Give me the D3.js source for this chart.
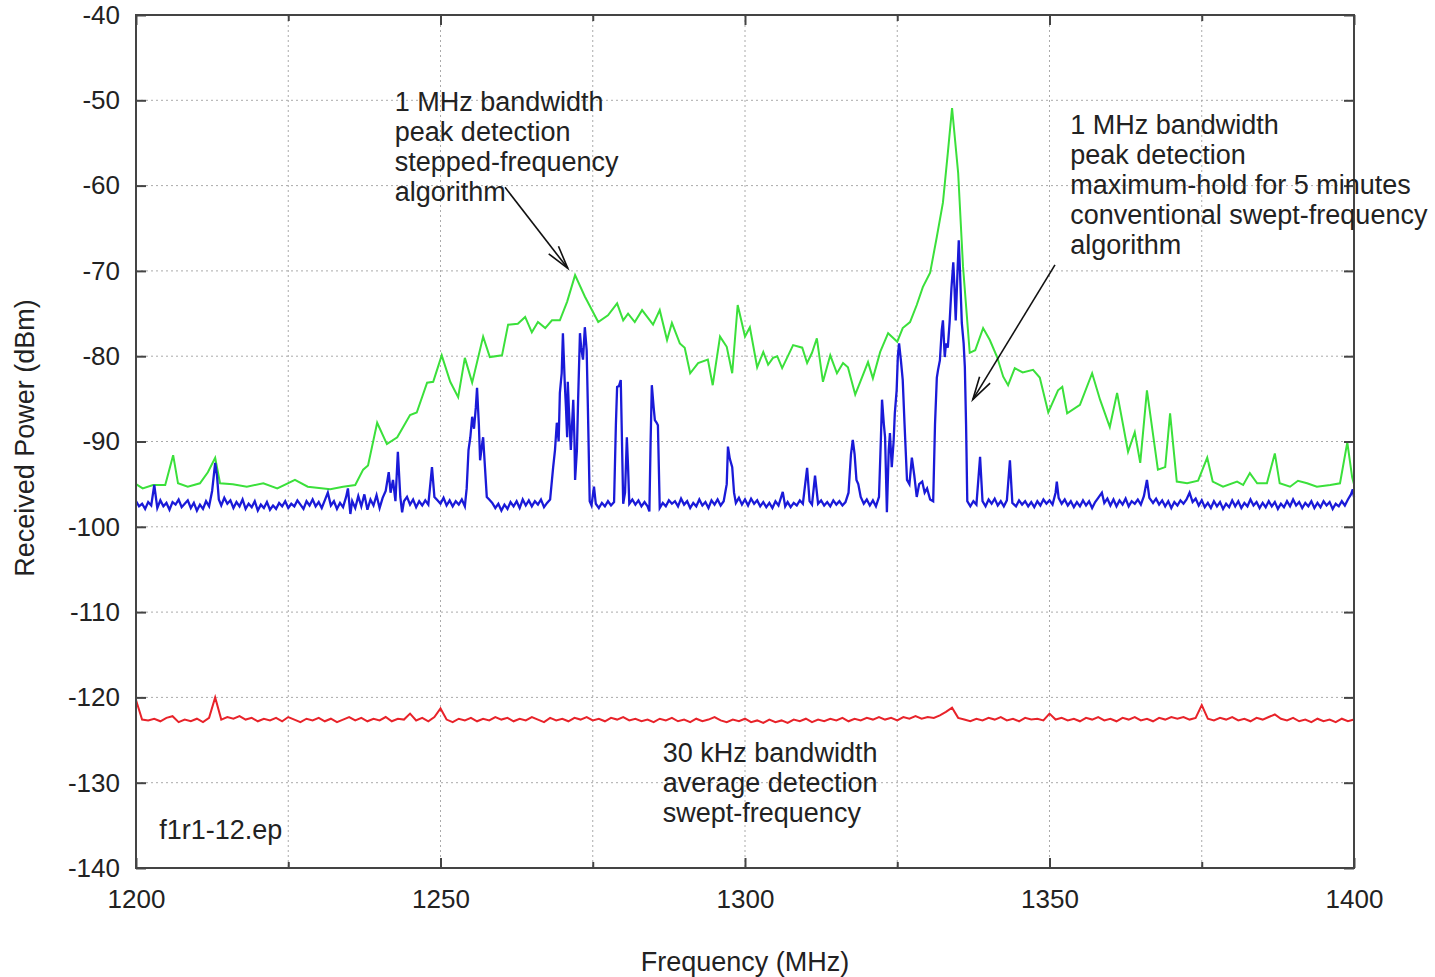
<!DOCTYPE html>
<html>
<head>
<meta charset="utf-8">
<script src="https://cdn.jsdelivr.net/npm/d3@7"></script>
<style>
  body { margin: 0; background: #fff; }
  text { font-family: "Liberation Sans", Arial, sans-serif; fill: #222; }
</style>
</head>
<body>
<div id="chart"></div>
<script>
// x tick labels and y ticks
const xTicks = [1200, 1250, 1300, 1350, 1400]
const xGrid = [1225, 1250, 1275, 1300, 1325, 1350, 1375]
const yTicks = [-140, -130, -120, -110, -100, -90, -80, -70, -60, -50, -40]

// 1 MHz peak, stepped-frequency (green) [MHz, dBm]
const green = [[1200,-95.0],[1201.1,-95.5],[1202.8,-95.1],[1204.8,-95.1],[1206.1,-91.6],[1206.9,-94.9],[1208.5,-95.3],[1210.5,-94.9],[1211.8,-93.6],[1213.0,-91.9],[1213.8,-94.9],[1215.9,-95.0],[1218.2,-95.3],[1220.9,-94.9],[1223.2,-95.5],[1226.1,-94.5],[1228.2,-95.3],[1231.9,-95.6],[1234.0,-95.3],[1236.0,-95.1],[1237.3,-93.3],[1238.1,-92.8],[1239.6,-87.8],[1241.2,-90.3],[1242.9,-89.5],[1245.0,-86.9],[1246.1,-86.6],[1247.8,-83.1],[1248.8,-83.0],[1250.2,-79.9],[1251.6,-83.0],[1252.9,-84.8],[1254.0,-80.2],[1255.2,-83.1],[1257.0,-77.7],[1258.1,-80.1],[1260.1,-79.9],[1261.1,-76.3],[1262.7,-76.2],[1263.9,-75.4],[1265.0,-77.2],[1266.0,-76.0],[1267.2,-76.7],[1268.3,-75.8],[1269.6,-75.8],[1270.8,-73.6],[1272.1,-70.5],[1273.7,-73.0],[1275.9,-76.0],[1277.5,-75.2],[1279.0,-73.8],[1280.0,-75.8],[1280.8,-75.0],[1281.9,-76.0],[1283.1,-74.6],[1284.9,-76.3],[1286.0,-74.6],[1287.2,-78.1],[1288.0,-76.1],[1289.3,-78.5],[1290.1,-79.0],[1291.0,-82.0],[1292.3,-80.8],[1293.9,-80.4],[1294.7,-83.4],[1295.9,-77.7],[1297.0,-78.9],[1297.9,-82.0],[1298.8,-74.0],[1300.0,-77.7],[1300.8,-76.6],[1302.0,-81.3],[1303.0,-79.5],[1303.8,-81.0],[1304.6,-80.2],[1305.3,-80.0],[1306.1,-81.4],[1307.9,-78.7],[1309.4,-79.0],[1310.2,-80.8],[1311.0,-79.6],[1311.8,-77.9],[1312.8,-83.0],[1314.0,-79.9],[1315.1,-82.0],[1316.1,-80.8],[1316.9,-81.3],[1318.1,-84.5],[1320.2,-80.7],[1321.0,-82.6],[1322.2,-79.5],[1323.5,-77.3],[1325.0,-78.3],[1325.9,-76.7],[1327.1,-76.0],[1328.2,-74.0],[1329.2,-71.9],[1330.4,-70.2],[1331.5,-66.0],[1332.5,-62.0],[1333.3,-56.2],[1334.0,-50.9],[1335.0,-58.5],[1335.8,-69.5],[1336.9,-79.6],[1337.8,-79.3],[1339.1,-76.7],[1340.2,-78.1],[1341.4,-80.1],[1342.4,-82.4],[1343.2,-83.4],[1344.3,-81.4],[1345.6,-81.9],[1347.3,-81.6],[1348.4,-82.5],[1349.8,-86.6],[1351.4,-84.0],[1352.1,-83.6],[1352.9,-86.7],[1355.0,-85.7],[1357.0,-82.0],[1358.3,-85.1],[1359.9,-88.3],[1361.1,-84.3],[1362.9,-91.2],[1364.0,-88.9],[1364.9,-92.5],[1366.0,-84.0],[1367.8,-93.3],[1369.0,-93.0],[1369.8,-86.7],[1370.9,-94.7],[1372.6,-94.9],[1374.4,-94.6],[1375.9,-91.9],[1376.8,-94.7],[1378.5,-95.3],[1380.8,-94.7],[1381.8,-95.1],[1382.9,-93.7],[1384.1,-94.9],[1385.7,-94.9],[1387.0,-91.4],[1387.8,-94.9],[1389.5,-95.3],[1390.8,-94.6],[1392.3,-94.9],[1393.9,-95.3],[1396.1,-95.1],[1397.7,-94.9],[1398.9,-90.1],[1399.7,-94.2],[1400,-95.0]]

// 1 MHz peak, max-hold swept-frequency (blue) [MHz, dBm]
const blue = [[1200,-97.0],[1200.5,-97.6],[1201,-97.3],[1201.5,-97.9],[1202,-97.1],[1202.5,-97.5],[1203,-95.1],[1203.5,-97.8],[1204,-96.9],[1204.5,-97.6],[1205,-97.2],[1205.5,-98.0],[1206,-97.1],[1206.5,-97.4],[1207,-96.8],[1207.5,-97.7],[1208,-97.3],[1208.5,-96.9],[1209,-97.8],[1209.5,-97.2],[1210,-98.1],[1210.5,-97.4],[1211,-97.9],[1211.5,-97.0],[1212,-97.6],[1212.5,-95.8],[1213,-92.5],[1213.3,-94.0],[1213.6,-96.8],[1214,-97.5],[1214.5,-96.6],[1215,-97.3],[1215.5,-96.9],[1216,-97.8],[1216.5,-97.1],[1217,-97.6],[1217.5,-96.8],[1218,-97.9],[1218.5,-97.3],[1219,-97.7],[1219.5,-97.0],[1220,-98.1],[1220.5,-97.4],[1221,-97.8],[1221.5,-97.1],[1222,-98.0],[1222.5,-97.5],[1223,-97.9],[1223.5,-97.2],[1224,-97.6],[1224.5,-97.0],[1225,-97.8],[1225.5,-97.3],[1226,-97.6],[1226.5,-96.9],[1227,-97.4],[1227.5,-97.9],[1228,-97.0],[1228.5,-97.5],[1229,-96.8],[1229.5,-97.6],[1230,-97.1],[1230.5,-97.8],[1231,-96.9],[1231.5,-96.0],[1232,-97.5],[1232.5,-97.0],[1233,-97.9],[1233.5,-97.2],[1234,-97.7],[1234.5,-96.5],[1234.8,-95.5],[1235.2,-98.5],[1235.5,-97.0],[1236,-97.8],[1236.5,-96.4],[1237,-97.6],[1237.5,-96.2],[1238,-98.0],[1238.5,-96.8],[1239,-97.5],[1239.5,-96.3],[1240,-97.8],[1240.5,-96.6],[1241,-95.8],[1241.5,-93.6],[1241.8,-96.0],[1242.2,-94.5],[1242.6,-97.0],[1243,-91.2],[1243.4,-96.5],[1243.7,-98.3],[1244,-97.0],[1244.5,-96.5],[1245,-97.4],[1245.5,-96.8],[1246,-97.7],[1246.5,-97.0],[1247,-97.5],[1247.5,-96.9],[1248,-97.4],[1248.6,-93.0],[1249,-96.5],[1249.5,-96.9],[1250,-97.3],[1250.5,-96.6],[1251,-97.5],[1251.5,-96.9],[1252,-97.6],[1252.5,-97.0],[1253,-97.4],[1253.5,-96.8],[1254,-97.6],[1254.3,-95.5],[1254.6,-91.0],[1254.9,-89.5],[1255.2,-87.1],[1255.5,-88.5],[1255.8,-86.0],[1256,-83.7],[1256.3,-88.0],[1256.5,-92.2],[1256.8,-90.5],[1257,-89.5],[1257.3,-93.0],[1257.6,-96.5],[1258,-96.8],[1258.5,-97.2],[1259,-97.8],[1259.5,-97.3],[1260,-98.1],[1260.5,-97.4],[1261,-97.9],[1261.5,-97.1],[1262,-97.6],[1262.5,-97.0],[1263,-97.8],[1263.5,-96.8],[1264,-97.5],[1264.5,-96.9],[1265,-97.6],[1265.5,-97.0],[1266,-97.4],[1266.5,-96.8],[1267,-97.7],[1267.5,-97.2],[1268,-96.8],[1268.5,-93.0],[1268.8,-91.0],[1269.1,-87.8],[1269.4,-90.0],[1269.6,-84.3],[1269.9,-82.0],[1270.1,-77.3],[1270.4,-83.1],[1270.6,-86.0],[1270.8,-89.5],[1270.9,-83.0],[1271.1,-86.5],[1271.4,-91.0],[1271.6,-88.0],[1271.8,-85.1],[1272.0,-90.0],[1272.1,-94.5],[1272.4,-91.0],[1272.6,-85.0],[1272.9,-77.3],[1273.1,-79.0],[1273.4,-80.4],[1273.7,-76.6],[1274.0,-79.3],[1274.2,-86.0],[1274.5,-97.0],[1274.8,-97.5],[1275.2,-95.3],[1275.5,-97.3],[1276,-97.8],[1276.5,-97.2],[1277,-97.6],[1277.5,-97.0],[1278,-97.5],[1278.5,-97.1],[1278.8,-88.0],[1279,-83.6],[1279.3,-83.5],[1279.6,-82.8],[1279.8,-90.0],[1280,-97.3],[1280.3,-96.0],[1280.6,-89.5],[1280.8,-93.0],[1281,-97.3],[1281.5,-96.8],[1282,-97.4],[1282.5,-96.9],[1283,-97.6],[1283.5,-97.1],[1284,-97.6],[1284.3,-98.2],[1284.5,-90.0],[1284.7,-83.4],[1285,-86.0],[1285.2,-87.5],[1285.5,-87.8],[1285.7,-88.1],[1286,-97.8],[1286.5,-97.2],[1287,-97.6],[1287.5,-96.9],[1288,-97.3],[1288.5,-97.0],[1289,-97.6],[1289.5,-96.7],[1290,-97.4],[1290.5,-97.0],[1291,-97.8],[1291.5,-97.2],[1292,-97.6],[1292.5,-96.8],[1293,-97.5],[1293.5,-97.1],[1294,-97.8],[1294.5,-96.9],[1295,-97.4],[1295.5,-96.8],[1296,-97.5],[1296.5,-97.0],[1297,-95.0],[1297.2,-90.6],[1297.5,-92.0],[1297.9,-93.0],[1298.2,-96.0],[1298.5,-97.2],[1299,-96.6],[1299.5,-97.4],[1300,-96.8],[1300.5,-97.5],[1301,-96.7],[1301.5,-97.3],[1302,-96.9],[1302.5,-97.6],[1303,-97.1],[1303.5,-97.7],[1304,-97.2],[1304.5,-97.8],[1305,-97.0],[1305.5,-97.5],[1306.2,-95.9],[1306.6,-97.6],[1307,-97.1],[1307.5,-97.7],[1308,-97.2],[1308.5,-97.5],[1309,-96.9],[1309.5,-97.3],[1310.2,-93.1],[1310.6,-97.0],[1311,-97.4],[1311.5,-94.0],[1312,-97.3],[1312.5,-96.9],[1313,-97.5],[1313.5,-97.1],[1314,-97.6],[1314.5,-96.9],[1315,-97.4],[1315.5,-97.0],[1316,-97.5],[1316.5,-97.1],[1317,-96.0],[1317.4,-91.5],[1317.7,-89.8],[1318,-91.5],[1318.3,-94.5],[1318.6,-95.0],[1319,-96.5],[1319.5,-97.3],[1320,-96.8],[1320.5,-97.5],[1321,-96.9],[1321.5,-97.6],[1322,-96.5],[1322.3,-90.0],[1322.5,-85.1],[1322.8,-88.0],[1323,-89.5],[1323.3,-98.3],[1323.6,-91.0],[1323.8,-89.0],[1324.1,-93.0],[1324.4,-90.0],[1324.6,-86.7],[1324.9,-84.0],[1325.1,-80.0],[1325.3,-78.5],[1325.6,-80.5],[1325.9,-82.8],[1326.2,-88.0],[1326.6,-94.5],[1327,-95.0],[1327.4,-91.9],[1327.8,-94.0],[1328.2,-96.5],[1328.6,-95.0],[1329.1,-94.7],[1329.5,-96.0],[1329.9,-95.5],[1330.4,-96.8],[1330.9,-97.0],[1331.2,-88.0],[1331.5,-82.5],[1331.7,-81.6],[1332.0,-80.5],[1332.3,-77.0],[1332.5,-75.8],[1332.8,-80.1],[1333.0,-78.5],[1333.3,-79.0],[1333.6,-76.0],[1333.9,-72.0],[1334.2,-69.0],[1334.4,-72.0],[1334.6,-75.8],[1334.9,-70.0],[1335.1,-66.4],[1335.3,-70.0],[1335.6,-76.1],[1335.9,-78.5],[1336.1,-81.3],[1336.3,-88.0],[1336.5,-97.0],[1337,-97.6],[1337.5,-97.0],[1338,-97.4],[1338.6,-91.8],[1339,-97.0],[1339.5,-97.6],[1340,-96.8],[1340.5,-97.3],[1341,-96.7],[1341.5,-97.5],[1342,-97.0],[1342.5,-97.6],[1343,-96.9],[1343.5,-92.2],[1343.9,-97.2],[1344.5,-97.6],[1345,-96.9],[1345.5,-97.4],[1346,-97.0],[1346.5,-97.6],[1347,-97.1],[1347.5,-97.7],[1348,-97.0],[1348.5,-97.5],[1349,-96.8],[1349.5,-97.3],[1350,-96.9],[1350.5,-97.4],[1351,-96.0],[1351.2,-94.7],[1351.5,-96.6],[1352,-97.3],[1352.5,-96.8],[1353,-97.5],[1353.5,-97.0],[1354,-97.7],[1354.5,-97.1],[1355,-97.6],[1355.5,-96.9],[1356,-97.5],[1356.5,-97.0],[1357,-97.8],[1357.5,-97.1],[1358,-96.6],[1358.6,-96.0],[1359,-97.2],[1359.5,-96.7],[1360,-97.5],[1360.5,-96.8],[1361,-97.6],[1361.5,-96.9],[1362,-97.4],[1362.5,-96.7],[1363,-97.6],[1363.5,-97.0],[1364,-97.3],[1364.5,-96.8],[1365,-97.4],[1365.5,-96.4],[1366,-94.5],[1366.4,-96.6],[1367,-97.2],[1367.5,-96.7],[1368,-97.4],[1368.5,-96.9],[1369,-97.6],[1369.5,-97.0],[1370,-97.8],[1370.5,-97.1],[1371,-97.5],[1371.5,-96.9],[1372,-97.3],[1372.5,-96.8],[1373,-96.0],[1373.5,-97.1],[1374,-96.7],[1374.5,-97.5],[1375,-96.9],[1375.5,-97.7],[1376,-97.2],[1376.5,-97.8],[1377,-97.0],[1377.5,-97.6],[1378,-97.1],[1378.5,-97.9],[1379,-97.3],[1379.5,-97.7],[1380,-96.9],[1380.5,-97.6],[1381,-97.0],[1381.5,-97.8],[1382,-97.2],[1382.5,-97.6],[1383,-96.8],[1383.5,-97.5],[1384,-97.1],[1384.5,-97.8],[1385,-97.2],[1385.5,-97.7],[1386,-97.0],[1386.5,-97.6],[1387,-97.1],[1387.5,-97.9],[1388,-97.3],[1388.5,-97.7],[1389,-97.0],[1389.5,-97.6],[1390,-96.8],[1390.5,-97.5],[1391,-97.1],[1391.5,-97.8],[1392,-97.2],[1392.5,-97.6],[1393,-97.0],[1393.5,-97.8],[1394,-97.2],[1394.5,-97.7],[1395,-97.0],[1395.5,-97.5],[1396,-97.1],[1396.5,-97.9],[1397,-97.3],[1397.5,-97.6],[1398,-97.0],[1398.5,-97.5],[1399,-96.8],[1399.5,-96.2],[1399.8,-95.6],[1400,-96.5]]

// 30 kHz average detection (red), one value per MHz from 1200
const redStart = 1200
const redDbm = [-120.3,-122.6,-122.7,-122.5,-122.8,-122.4,-122.2,-122.9,-122.6,-122.8,-122.5,-122.9,-122.4,-120.0,-122.6,-122.3,-122.5,-122.2,-122.6,-122.4,
-122.8,-122.5,-122.7,-122.4,-122.8,-122.3,-122.6,-122.9,-122.5,-122.7,-122.4,-122.8,-122.5,-122.9,-122.6,-122.3,-122.7,-122.4,-122.8,-122.5,
-122.7,-122.3,-122.8,-122.5,-122.6,-121.9,-122.7,-122.4,-122.8,-122.3,-121.3,-122.6,-122.9,-122.5,-122.7,-122.4,-122.8,-122.5,-122.7,-122.3,
-122.6,-122.4,-122.8,-122.5,-122.7,-122.3,-122.6,-122.9,-122.4,-122.7,-122.5,-122.8,-122.4,-122.6,-122.3,-122.7,-122.5,-122.8,-122.4,-122.6,
-122.3,-122.7,-122.5,-122.8,-122.6,-122.9,-122.5,-122.7,-122.4,-122.8,-122.6,-122.9,-122.5,-122.8,-122.6,-122.3,-122.7,-122.9,-122.6,-122.8,
-122.5,-122.9,-122.7,-123.0,-122.6,-122.9,-122.7,-123.0,-122.6,-122.8,-122.5,-122.9,-122.6,-122.8,-122.5,-122.7,-122.4,-122.8,-122.5,-122.7,
-122.4,-122.6,-122.3,-122.6,-122.4,-122.7,-122.3,-122.5,-122.2,-122.5,-122.3,-122.4,-122.1,-121.7,-121.2,-122.4,-122.6,-122.8,-122.5,-122.7,
-122.4,-122.6,-122.3,-122.7,-122.5,-122.8,-122.4,-122.6,-122.5,-122.7,-121.9,-122.6,-122.4,-122.7,-122.5,-122.8,-122.4,-122.6,-122.3,-122.7,
-122.5,-122.8,-122.4,-122.6,-122.3,-122.7,-122.5,-122.8,-122.4,-122.6,-122.3,-122.5,-122.3,-122.6,-122.4,-120.9,-122.5,-122.7,-122.4,-122.6,
-122.3,-122.7,-122.5,-122.8,-122.4,-122.6,-122.3,-122.0,-122.5,-122.7,-122.4,-122.8,-122.6,-122.9,-122.5,-122.8,-122.6,-122.9,-122.5,-122.8,-122.6]

const annoStepped = ["1 MHz bandwidth", "peak detection", "stepped-frequency", "algorithm"]
const annoSwept = ["1 MHz bandwidth", "peak detection", "maximum-hold for 5 minutes", "conventional swept-frequency", "algorithm"]
const annoAvg = ["30 kHz bandwidth", "average detection", "swept-frequency"]

const width = 1435, height = 977
const mLeft = 136, mRight = 1354, mTop = 15, mBottom = 868

const svg = d3.select("#chart").append("svg")
    .attr("width", width)
    .attr("height", height)

const x = d3.scaleLinear().domain([1200, 1400]).range([mLeft, mRight])
const y = d3.scaleLinear().domain([-140, -40]).range([mBottom, mTop])

// grid
const grid = svg.append("g")
grid.selectAll(".gx")
    .data(xGrid)
    .enter().append("line")
    .attr("x1", d => x(d)).attr("x2", d => x(d))
    .attr("y1", mTop).attr("y2", mBottom)
    .attr("stroke", "#aaa").attr("stroke-width", 1)
    .attr("stroke-dasharray", "2,3")
grid.selectAll(".gy")
    .data(yTicks.slice(1, -1))
    .enter().append("line")
    .attr("x1", mLeft).attr("x2", mRight)
    .attr("y1", d => y(d)).attr("y2", d => y(d))
    .attr("stroke", "#aaa").attr("stroke-width", 1)
    .attr("stroke-dasharray", "2,3")

// series
const line = d3.line().x(d => x(d[0])).y(d => y(d[1]))

svg.append("path")
    .datum(redDbm.map((v, i) => [redStart + i, v]))
    .attr("d", line)
    .attr("fill", "none")
    .attr("stroke", "#e8232a")
    .attr("stroke-width", 2)

svg.append("path")
    .datum(green)
    .attr("d", line)
    .attr("fill", "none")
    .attr("stroke", "#3be03b")
    .attr("stroke-width", 2)

svg.append("path")
    .datum(blue)
    .attr("d", line)
    .attr("fill", "none")
    .attr("stroke", "#1a1ad8")
    .attr("stroke-width", 2.3)

// axes (ticks inside, mirrored)
const fontSize = 26
const minorX = xGrid.filter(d => d % 50 !== 0)
svg.append("g")
    .attr("transform", `translate(${mLeft},0)`)
    .call(d3.axisLeft(y).tickValues(yTicks).tickSize(-10).tickPadding(16).tickSizeOuter(0).tickFormat(d => String(d)))
svg.append("g")
    .attr("transform", `translate(${mRight},0)`)
    .call(d3.axisRight(y).tickValues(yTicks).tickSize(-10).tickFormat("").tickSizeOuter(0))
svg.append("g")
    .attr("transform", `translate(0,${mBottom})`)
    .call(d3.axisBottom(x).tickValues(xTicks).tickSize(-10).tickPadding(22).tickFormat(d => String(d)).tickSizeOuter(0))
svg.append("g")
    .attr("transform", `translate(0,${mBottom})`)
    .call(d3.axisBottom(x).tickValues(minorX).tickSize(-6).tickFormat("").tickSizeOuter(0))
svg.append("g")
    .attr("transform", `translate(0,${mTop})`)
    .call(d3.axisTop(x).tickValues(xTicks).tickSize(-10).tickFormat("").tickSizeOuter(0))
svg.append("g")
    .attr("transform", `translate(0,${mTop})`)
    .call(d3.axisTop(x).tickValues(minorX).tickSize(-6).tickFormat("").tickSizeOuter(0))

svg.selectAll(".domain").remove()
svg.selectAll(".tick line").attr("stroke", "#444").attr("stroke-width", 2)
svg.selectAll(".tick text")
    .style("font-family", '"Liberation Sans", Arial, sans-serif')
    .style("font-size", fontSize + "px")
    .attr("fill", "#222")

// frame
svg.append("rect")
    .attr("x", mLeft).attr("y", mTop)
    .attr("width", mRight - mLeft).attr("height", mBottom - mTop)
    .attr("fill", "none")
    .attr("stroke", "#444")
    .attr("stroke-width", 2)

// axis titles
svg.append("text")
    .attr("x", 745)
    .attr("y", 971)
    .attr("text-anchor", "middle")
    .style("font-size", "27px")
    .text("Frequency (MHz)")

svg.append("text")
    .attr("transform", `translate(34,438) rotate(-90)`)
    .attr("text-anchor", "middle")
    .style("font-size", "27px")
    .text("Received Power (dBm)")

// annotations
function drawLines(lines, mhz, dbm) {
    svg.append("text")
        .attr("x", x(mhz))
        .attr("y", y(dbm))
        .style("font-size", "27px")
        .selectAll("tspan")
        .data(lines)
        .enter().append("tspan")
        .attr("x", x(mhz))
        .attr("dy", (d, i) => i === 0 ? 0 : 30)
        .text(d => d)
}
drawLines(annoStepped, 1242.5, -51.3)
drawLines(annoSwept, 1353.4, -54.0)
drawLines(annoAvg, 1286.5, -127.6)
drawLines(["f1r1-12.ep"], 1203.8, -136.6)

// arrows with open heads
function arrow(x0, y0, x1, y1) {
    const ax = x(x0), ay = y(y0), bx = x(x1), by = y(y1)
    const ang = Math.atan2(by - ay, bx - ax)
    const len = 24, spread = 0.26
    const g = svg.append("g").attr("stroke", "#111").attr("stroke-width", 1.6).attr("fill", "none")
    g.append("line").attr("x1", ax).attr("y1", ay).attr("x2", bx).attr("y2", by)
    g.append("path").attr("d",
        `M${bx - len * Math.cos(ang - spread)},${by - len * Math.sin(ang - spread)}L${bx},${by}L${bx - len * Math.cos(ang + spread)},${by - len * Math.sin(ang + spread)}`)
}
arrow(1260.6, -60.2, 1270.9, -69.7)
arrow(1350.9, -69.3, 1337.4, -85.1)
</script>
</body>
</html>
